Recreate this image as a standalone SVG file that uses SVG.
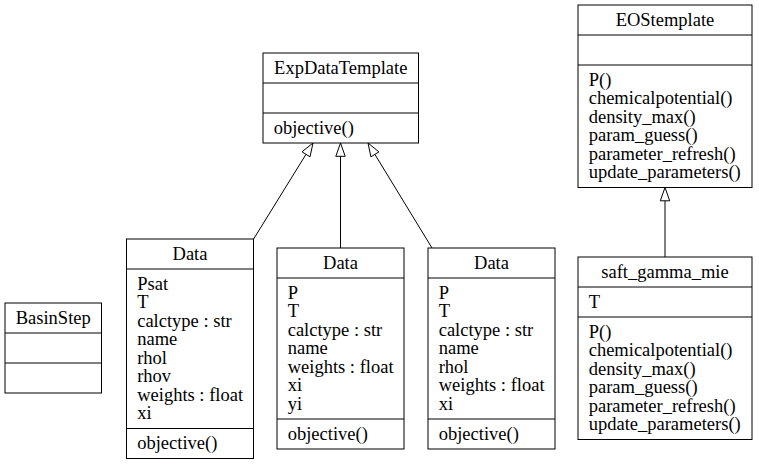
<svg xmlns="http://www.w3.org/2000/svg" width="759" height="464" viewBox="0 0 759 464">
<style>
  .box { fill: #ffffff; stroke: #000000; stroke-width: 1; }
  .sep { stroke: #000000; stroke-width: 1; fill: none; }
  text { font-family: "Liberation Serif", "Times New Roman", serif; font-size: 18.5px; fill: #000000; }
  .title { text-anchor: middle; }
  .edge { stroke: #000000; stroke-width: 1; fill: none; }
  .head { fill: #ffffff; stroke: #000000; stroke-width: 1; }
</style>
<rect width="759" height="464" fill="#ffffff"/>

<g id="connectors">
  <line class="edge" x1="253" y1="240" x2="306" y2="154.3"/>
  <polygon class="head" points="313,143 310,156.8 302,151.8"/>
  <line class="edge" x1="340.5" y1="248" x2="340.5" y2="156.3"/>
  <polygon class="head" points="340.5,143 345.2,156.3 335.8,156.3"/>
  <line class="edge" x1="432" y1="248" x2="374.9" y2="154.4"/>
  <polygon class="head" points="368,143 378.9,151.9 370.9,156.8"/>
  <line class="edge" x1="665" y1="257" x2="665" y2="200.8"/>
  <polygon class="head" points="665,187.5 669.7,200.8 660.3,200.8"/>
</g>

<g id="BasinStep">
  <rect class="box" x="5" y="303" width="96.5" height="90"/>
  <line class="sep" x1="5" y1="333" x2="101.5" y2="333"/>
  <line class="sep" x1="5" y1="363" x2="101.5" y2="363"/>
  <text class="title" x="53.25" y="323.5">BasinStep</text>
</g>

<g id="ExpDataTemplate">
  <rect class="box" x="263" y="53" width="155.5" height="90"/>
  <line class="sep" x1="263" y1="83" x2="418.5" y2="83"/>
  <line class="sep" x1="263" y1="113" x2="418.5" y2="113"/>
  <text class="title" x="340.75" y="73.5">ExpDataTemplate</text>
  <text x="273.7" y="133.5">objective()</text>
</g>

<g id="Data1">
  <rect class="box" x="126.5" y="239" width="127" height="219.5"/>
  <line class="sep" x1="126.5" y1="269" x2="253.5" y2="269"/>
  <line class="sep" x1="126.5" y1="428.5" x2="253.5" y2="428.5"/>
  <text class="title" x="190" y="259.5">Data</text>
  <text x="137.2" y="289.5">Psat</text>
  <text x="137.2" y="308">T</text>
  <text x="137.2" y="326.5">calctype : str</text>
  <text x="137.2" y="345">name</text>
  <text x="137.2" y="363.5">rhol</text>
  <text x="137.2" y="382">rhov</text>
  <text x="137.2" y="400.5">weights : float</text>
  <text x="137.2" y="419">xi</text>
  <text x="137.2" y="449">objective()</text>
</g>

<g id="Data2">
  <rect class="box" x="277" y="248" width="127" height="201"/>
  <line class="sep" x1="277" y1="278" x2="404" y2="278"/>
  <line class="sep" x1="277" y1="419" x2="404" y2="419"/>
  <text class="title" x="340.5" y="268.5">Data</text>
  <text x="287.7" y="298.5">P</text>
  <text x="287.7" y="317">T</text>
  <text x="287.7" y="335.5">calctype : str</text>
  <text x="287.7" y="354">name</text>
  <text x="287.7" y="372.5">weights : float</text>
  <text x="287.7" y="391">xi</text>
  <text x="287.7" y="409.5">yi</text>
  <text x="287.7" y="439.5">objective()</text>
</g>

<g id="Data3">
  <rect class="box" x="428" y="248" width="127" height="201"/>
  <line class="sep" x1="428" y1="278" x2="555" y2="278"/>
  <line class="sep" x1="428" y1="419" x2="555" y2="419"/>
  <text class="title" x="491.5" y="268.5">Data</text>
  <text x="438.7" y="298.5">P</text>
  <text x="438.7" y="317">T</text>
  <text x="438.7" y="335.5">calctype : str</text>
  <text x="438.7" y="354">name</text>
  <text x="438.7" y="372.5">rhol</text>
  <text x="438.7" y="391">weights : float</text>
  <text x="438.7" y="409.5">xi</text>
  <text x="438.7" y="439.5">objective()</text>
</g>

<g id="EOStemplate">
  <rect class="box" x="578" y="5" width="174" height="182.5"/>
  <line class="sep" x1="578" y1="35" x2="752" y2="35"/>
  <line class="sep" x1="578" y1="65" x2="752" y2="65"/>
  <text class="title" x="665" y="25.5">EOStemplate</text>
  <text x="588.7" y="85.5">P()</text>
  <text x="588.7" y="104">chemicalpotential()</text>
  <text x="588.7" y="122.5">density_max()</text>
  <text x="588.7" y="141">param_guess()</text>
  <text x="588.7" y="159.5">parameter_refresh()</text>
  <text x="588.7" y="178">update_parameters()</text>
</g>

<g id="saft_gamma_mie">
  <rect class="box" x="578" y="257" width="174" height="182.5"/>
  <line class="sep" x1="578" y1="287" x2="752" y2="287"/>
  <line class="sep" x1="578" y1="317" x2="752" y2="317"/>
  <text class="title" x="665" y="277.5">saft_gamma_mie</text>
  <text x="588.7" y="307.5">T</text>
  <text x="588.7" y="337.5">P()</text>
  <text x="588.7" y="356">chemicalpotential()</text>
  <text x="588.7" y="374.5">density_max()</text>
  <text x="588.7" y="393">param_guess()</text>
  <text x="588.7" y="411.5">parameter_refresh()</text>
  <text x="588.7" y="430">update_parameters()</text>
</g>
</svg>
